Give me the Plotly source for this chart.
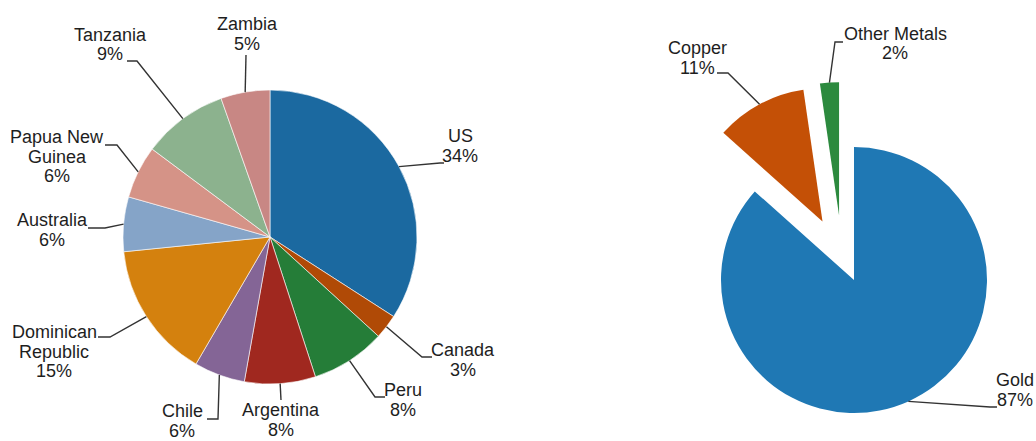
import math
import plotly.graph_objects as go

# ---------------- data ----------------
countries = ["US", "Canada", "Peru", "Argentina", "Chile", "Dominican Republic",
             "Australia", "Papua New Guinea", "Tanzania", "Zambia"]
country_share = [34.1, 2.7, 8.2, 7.8, 5.6, 15.0, 6.0, 5.8, 9.4, 5.4]
country_label_lines = [["US"], ["Canada"], ["Peru"], ["Argentina"], ["Chile"],
                       ["Dominican", "Republic"], ["Australia"], ["Papua New", "Guinea"],
                       ["Tanzania"], ["Zambia"]]

metals = ["Gold", "Copper", "Other Metals"]
metal_share = [86.6, 11.1, 2.3]
metal_label_lines = [["Gold"], ["Copper"], ["Other Metals"]]

# ---------------- styles ----------------
country_colors = ["#1b69a0", "#b04a06", "#257d38", "#a0281f", "#846596",
                  "#d4810e", "#85a4c8", "#d59387", "#8cb28e", "#c88784"]
metal_colors = ["#1f78b4", "#c45006", "#2c8a3e"]

W, H = 1036, 441
FONT = dict(family="Liberation Sans, Arial, sans-serif", size=18, color="#1e1e1e")
LINE_H = 19.5
LEADER = dict(color="#333333", width=1.4)

LEFT_C, LEFT_R = (270.0, 237.0), 147.0
RIGHT_C, RIGHT_R = (854.0, 280.0), 133.0
metal_pull = [0.0, 0.5, 0.5]
metal_pull_dir = [None, None, 347.0]  # degrees clockwise from 12 o'clock

# label layout (pixels): text centre x, first-line centre y, elbow, leader end
country_label_pos = {
    "US": (460, 136, (440, 163), (444, 163)),
    "Canada": (463, 350, (422, 357), (432, 357)),
    "Peru": (403, 390, (375, 397), (385, 397)),
    "Argentina": (281, 410, (281, 400), (281, 400)),
    "Chile": (182, 411, (218, 419), (207, 419)),
    "Dominican Republic": (54, 332, (110, 337), (98, 337)),
    "Australia": (52, 220, (105, 228), (88, 228)),
    "Papua New Guinea": (57, 137, (117, 145), (105, 145)),
    "Tanzania": (110, 35, (137, 61), (127, 61)),
    "Zambia": (247, 24, (246, 55), (246, 55)),
}
metal_label_pos = {
    "Gold": (1015, 380, (990, 407), (997, 407)),
    "Copper": (697, 48, (728, 73), (717, 73)),
    "Other Metals": (895, 34, (835, 42), (843, 42)),
}


def px(x, y):
    return x / W, 1 - y / H


def domain_for(c, r):
    x0, y0 = px(c[0] - r, c[1] + r)
    x1, y1 = px(c[0] + r, c[1] - r)
    return dict(x=[x0, x1], y=[y0, y1])


def mid_angles(vals):
    tot = sum(vals)
    out, cum = [], 0.0
    for v in vals:
        out.append((cum + v / 2) / tot * 360.0)
        cum += v
    return out


def unit(a):
    r = math.radians(a)
    return math.sin(r), -math.cos(r)


fig = go.Figure()
shapes, annotations = [], []


def add_labels(names, vals, lines, pos, centers, r):
    tot = sum(vals)
    mids = mid_angles(vals)
    for i, name in enumerate(names):
        cx, cy = centers[i]
        ux, uy = unit(mids[i])
        p0 = (cx + r * ux, cy + r * uy)
        tx, ty, elbow, end = pos[name]
        pts = [p0, elbow, end]
        path = ""
        for j, (x, y) in enumerate(pts):
            X, Y = px(x, y)
            path += ("M" if j == 0 else " L") + f" {X:.5f} {Y:.5f}"
        shapes.append(dict(type="path", path=path, xref="paper", yref="paper",
                           line=LEADER))
        pct = f"{round(vals[i] / tot * 100)}%"
        for k, txt in enumerate(lines[i] + [pct]):
            X, Y = px(tx, ty + k * LINE_H)
            annotations.append(dict(text=txt, x=X, y=Y, xref="paper", yref="paper",
                                    xanchor="center", yanchor="middle",
                                    showarrow=False, font=FONT))


# left pie
fig.add_trace(go.Pie(values=country_share, labels=countries, sort=False,
                     direction="clockwise", rotation=0,
                     marker=dict(colors=country_colors, line=dict(color="white", width=0.6)),
                     textinfo="none", textposition="none", showlegend=False,
                     domain=domain_for(LEFT_C, LEFT_R), hoverinfo="label+percent"))
add_labels(countries, country_share, country_label_lines, country_label_pos,
           [LEFT_C] * len(countries), LEFT_R)

# right pie: one trace per slice so pulled slices keep full radius
mids_m = mid_angles(metal_share)
metal_centers = []
for i in range(len(metals)):
    d = metal_pull_dir[i] if metal_pull_dir[i] is not None else mids_m[i]
    ux, uy = unit(d)
    off = metal_pull[i] * RIGHT_R
    c = (RIGHT_C[0] + off * ux, RIGHT_C[1] + off * uy)
    metal_centers.append(c)
    cols = [metal_colors[j] if j == i else "rgba(0,0,0,0)" for j in range(len(metals))]
    fig.add_trace(go.Pie(values=metal_share, labels=metals, sort=False,
                         direction="clockwise", rotation=0,
                         marker=dict(colors=cols, line=dict(width=0)),
                         textinfo="none", textposition="none", showlegend=False,
                         domain=domain_for(c, RIGHT_R), hoverinfo="label+percent"))
add_labels(metals, metal_share, metal_label_lines, metal_label_pos, metal_centers, RIGHT_R)

fig.update_layout(width=W, height=H, margin=dict(l=0, r=0, t=0, b=0),
                  paper_bgcolor="white", plot_bgcolor="white",
                  showlegend=False, shapes=shapes, annotations=annotations)

fig.write_html("out.html")
